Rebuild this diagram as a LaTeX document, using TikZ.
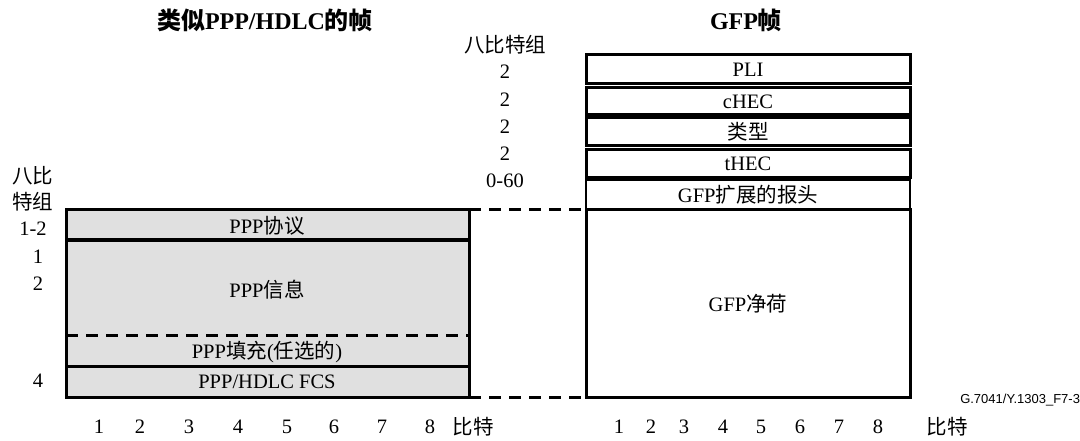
\documentclass[tikz,border=0pt]{standalone}
\usepackage{fontspec}
\setmainfont{Liberation Serif}
\newfontfamily\cjk{Noto Sans CJK SC}
\newfontfamily\arialf{Liberation Sans}
\begin{document}
\begin{tikzpicture}[x=1pt,y=-1pt,
  every node/.style={font=\fontsize{20.5}{23}\selectfont, inner sep=0pt, outer sep=0pt},
  ttl/.style={font=\fontsize{24}{28}\selectfont\bfseries},
  frame/.style={line width=3pt},
  gbox/.style={draw, line width=3pt, minimum width=324pt, anchor=north west},
  ebox/.style={draw, line width=2pt, minimum width=324pt, anchor=north west},
  dline/.style={line width=3pt, dash pattern=on 12pt off 8pt},
  pfill/.style={fill=black!12}
]
\useasboundingbox (0,0) rectangle (1080,441);
% titles
\node[ttl] (t1) at (265,20) {{\cjk 类似}PPP/HDLC{\cjk 的帧}};
\node[ttl] (t2) at (746,20) {GFP{\cjk 帧}};
% left frame
\fill[pfill] (66,210) rectangle (469,397);
\coordinate (LTR) at (469,210);
\coordinate (LBR) at (469,397);
\draw[frame] (66,210) rectangle (469,397);
\draw[frame] (66,240) -- (469,240);
\draw[frame] (66,366) -- (469,366);
\draw[dline] (66,335) -- (469,335);
\node (proto) at (267,226) {PPP{\cjk 协议}};
\node (info) at (267,290) {PPP{\cjk 信息}};
\node (pad) at (267,352) {PPP{\cjk 填充}({\cjk 任选的})};
\node (fcs) at (267,382) {PPP/HDLC FCS};
% left octet labels
\node (lo1) at (33,176) {\cjk 八比};
\node (lo2) at (33,202) {\cjk 特组};
\node (l12) at (33,229) {1-2};
\node (l1) at (38,257) {1};
\node (l2) at (38,284) {2};
\node (l4) at (38,381) {4};
% left bit numbers
\foreach \x/\n in {99/1,140/2,189/3,238/4,287/5,334/6,382/7,430/8}
  \node (lb\n) at (\x,427) {\n};
\node (lbit) at (473,427) {\cjk 比特};
% right frame
\node[gbox, minimum height=29pt] (pli) at (586,55) {PLI};
\node[gbox, minimum height=27pt] (chec) at (586,88) {cHEC};
\node[gbox, minimum height=28pt] (type) at (586,118) {\cjk 类型};
\node[gbox, minimum height=28pt] (thec) at (586,150) {tHEC};
\node[ebox, minimum height=30pt] (ext) at (586,180) {GFP{\cjk 扩展的报头}};
\node[gbox, minimum height=187pt] (pay) at (586,210) {GFP{\cjk 净荷}};
% right octet labels
\node (ro) at (505,45) {\cjk 八比特组};
\node (r1) at (505,72) {2};
\node (r2) at (505,100) {2};
\node (r3) at (505,127) {2};
\node (r4) at (505,154) {2};
\node (r5) at (505,181) {0-60};
% right bit numbers
\foreach \x/\n in {619/1,651/2,684/3,723/4,761/5,800/6,839/7,878/8}
  \node (rb\n) at (\x,427) {\n};
\node (rbit) at (947,427) {\cjk 比特};
% connectors
\draw[dline] (LTR) -- (pay.north west);
\draw[dline] (LBR) -- (pay.south west);
% figure id
\node[font=\fontsize{13}{15}\selectfont\arialf, anchor=east] (fid) at (1080,400) {G.7041/Y.1303\_F7-3};
\end{tikzpicture}
\end{document}
